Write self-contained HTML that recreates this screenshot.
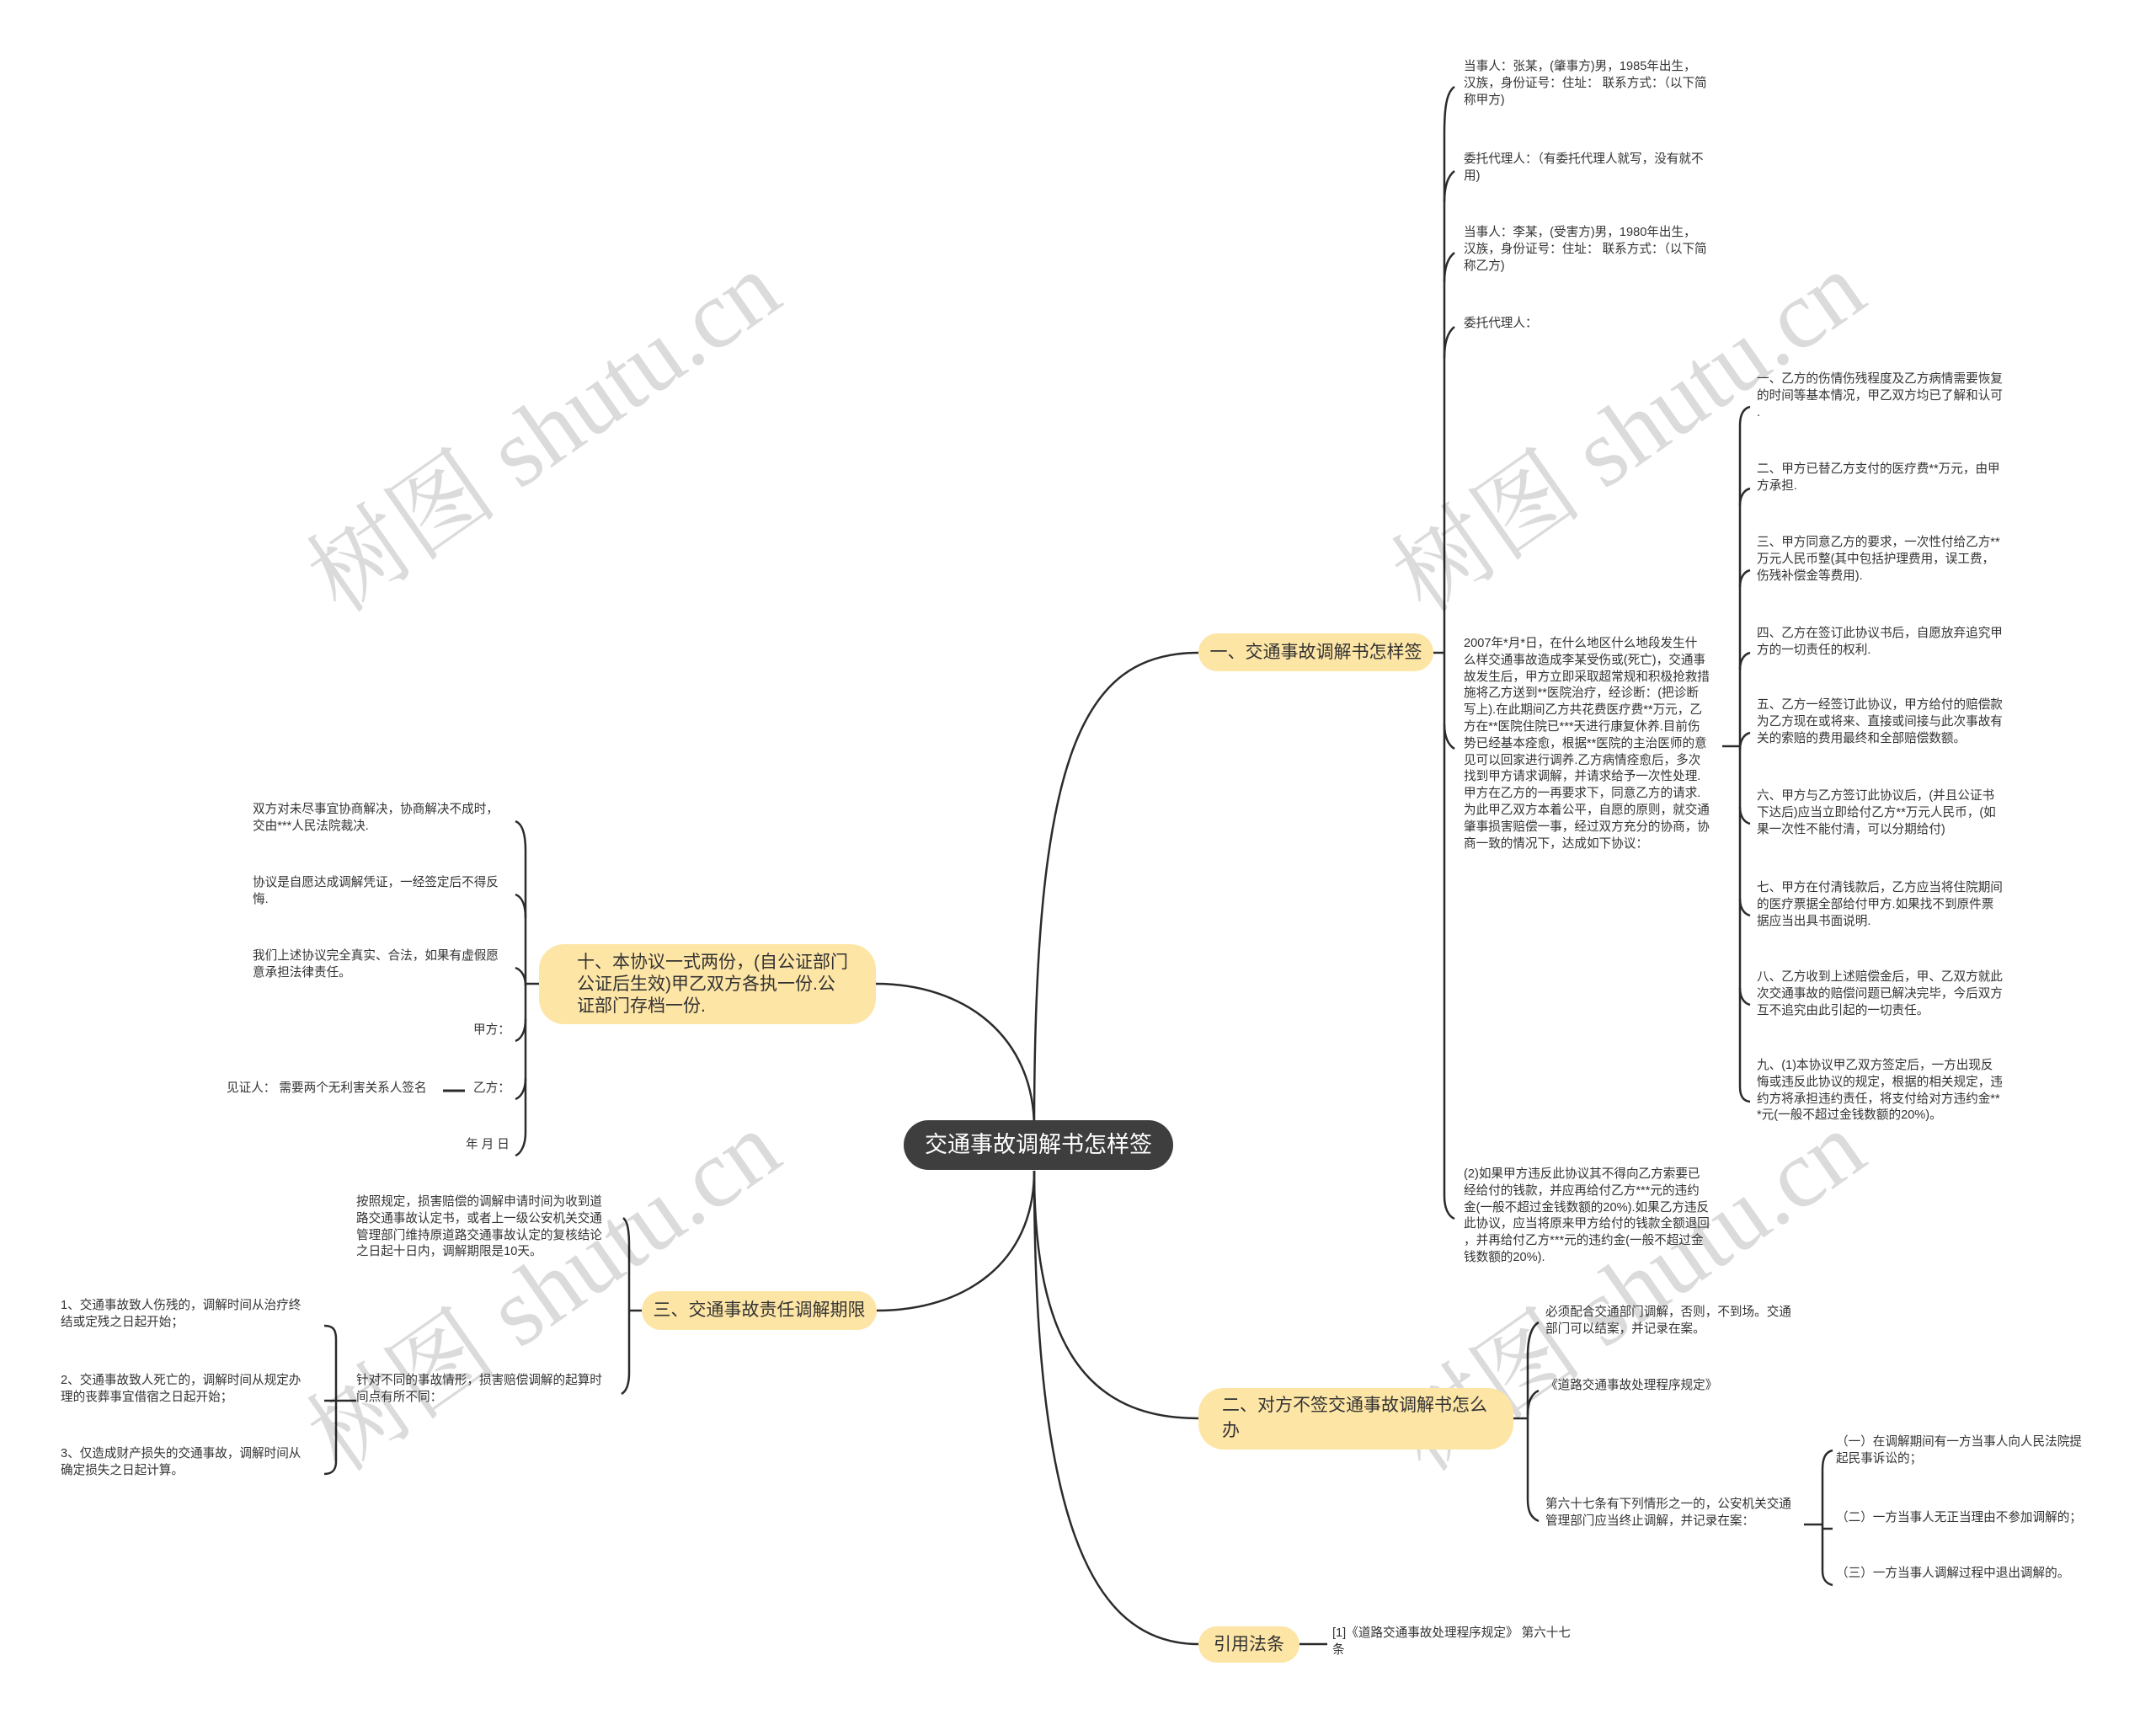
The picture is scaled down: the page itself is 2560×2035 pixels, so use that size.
<!DOCTYPE html>
<html><head><meta charset="utf-8">
<style>
html,body{margin:0;padding:0;background:#fff;}
body{width:2560px;height:2035px;position:relative;overflow:hidden;font-family:"Liberation Sans","Noto Sans CJK SC",sans-serif;color:#333;}
.t{position:absolute;font-size:14.6px;line-height:19.8px;white-space:nowrap;color:#333;}
.b{position:absolute;background:#fde5a6;border-radius:30px;font-size:21px;line-height:30px;color:#333;box-sizing:border-box;white-space:nowrap;}
.wm{position:absolute;font-family:"Liberation Serif","Noto Serif CJK SC",serif;font-size:115px;color:rgba(0,0,0,0.14);white-space:nowrap;transform:translate(-50%,-50%) rotate(-35deg);}
svg{position:absolute;left:0;top:0;}
</style></head><body>
<svg width="2560" height="2035" fill="none" stroke="#2b2b2b" stroke-width="2.5">
<path d="M1228 1340 C1228 900 1283 775 1423 775"/>
<path d="M1228 1390 C1228 1600 1293 1684 1423 1684"/>
<path d="M1228 1390 C1228 1800 1293 1952 1423 1952"/>
<path d="M1228 1340 C1228 1230 1145 1168 1040 1168"/>
<path d="M1228 1390 C1228 1500 1145 1556 1041 1556"/>
<path d="M1702 775 H1715"/>
<path d="M1727 103 C1717 110 1715 130 1715 160 V1420 C1715 1435 1720 1444 1727 1447"/>
<path d="M1727 203 C1718 210 1715 225 1715 240"/>
<path d="M1727 300 C1718 307 1715 320 1715 335"/>
<path d="M1727 388 C1718 395 1715 410 1715 425"/>
<path d="M1715 860 C1715 875 1720 885 1727 889"/>
<path d="M2045 886 H2066"/>
<path d="M2078 483 C2070 485 2066 492 2066 505 V1290 C2066 1302 2070 1307 2078 1308"/>
<path d="M2078 580 C2070 582 2066 590 2066 600"/>
<path d="M2078 677 C2070 679 2066 687 2066 697"/>
<path d="M2078 775 C2070 777 2066 785 2066 795"/>
<path d="M2078 870 C2070 872 2066 880 2066 890"/>
<path d="M2078 978 C2070 976 2066 968 2066 958"/>
<path d="M2078 1087 C2070 1085 2066 1077 2066 1067"/>
<path d="M2078 1193 C2070 1191 2066 1183 2066 1173"/>
<path d="M640 1168 H624"/>
<path d="M612 975 C620 978 624 990 624 1010 V1345 C624 1360 618 1370 612 1372"/>
<path d="M612 1062 C620 1065 624 1075 624 1090"/>
<path d="M612 1149 C620 1152 624 1160 624 1170"/>
<path d="M612 1236 C620 1233 624 1223 624 1210"/>
<path d="M612 1305 C620 1302 624 1292 624 1280"/>
<path d="M526 1295 H552" stroke-width="3"/>
<path d="M762 1556 H747"/>
<path d="M740 1446 C745 1450 747 1460 747 1480 V1630 C747 1645 743 1652 738 1655"/>
<path d="M423 1663 H399"/>
<path d="M385 1574 C395 1574 399 1578 399 1590 V1735 C399 1745 395 1750 385 1750"/>
<path d="M399 1663 H385"/>
<path d="M1797 1684 H1814"/>
<path d="M1827 1570 C1818 1575 1814 1590 1814 1610 V1780 C1814 1795 1818 1802 1827 1806"/>
<path d="M1827 1651 C1818 1655 1814 1665 1814 1680"/>
<path d="M2142 1810 H2164"/>
<path d="M2176 1722 C2168 1724 2164 1730 2164 1745 V1865 C2164 1875 2168 1880 2176 1882"/>
<path d="M2164 1815 H2176"/>
<path d="M1543 1952 H1576"/>
</svg>

<div class="wm" style="left:640px;top:505px;">树图 shutu.cn</div>
<div class="wm" style="left:1928px;top:505px;">树图 shutu.cn</div>
<div class="wm" style="left:640px;top:1525px;">树图 shutu.cn</div>
<div class="wm" style="left:1928px;top:1525px;">树图 shutu.cn</div>

<div style="position:absolute;left:1073px;top:1330px;width:320px;height:59px;background:#3e3e3e;border-radius:30px;color:#fff;font-size:27px;line-height:59px;text-align:center;">交通事故调解书怎样签</div>

<div class="b" style="left:1423px;top:752px;width:279px;height:45px;line-height:45px;text-align:center;">一、交通事故调解书怎样签</div>
<div class="b" style="left:640px;top:1121px;width:400px;height:95px;padding:9px 0 0 45px;line-height:26px;">十、本协议一式两份，(自公证部门<br>公证后生效)甲乙双方各执一份.公<br>证部门存档一份.</div>
<div class="b" style="left:762px;top:1533px;width:279px;height:46px;line-height:46px;text-align:center;">三、交通事故责任调解期限</div>
<div class="b" style="left:1423px;top:1648px;width:374px;height:73px;padding:6px 0 0 28px;">二、对方不签交通事故调解书怎么<br>办</div>
<div class="b" style="left:1423px;top:1931px;width:120px;height:43px;line-height:43px;text-align:center;">引用法条</div>

<div class="t" style="left:1738px;top:70px;">当事人：张某，(肇事方)男，1985年出生，<br>汉族，身份证号：住址： 联系方式：（以下简<br>称甲方)</div>
<div class="t" style="left:1738px;top:180px;">委托代理人：（有委托代理人就写，没有就不<br>用)</div>
<div class="t" style="left:1738px;top:267px;">当事人：李某，(受害方)男，1980年出生，<br>汉族，身份证号：住址： 联系方式：（以下简<br>称乙方)</div>
<div class="t" style="left:1738px;top:375px;">委托代理人：</div>
<div class="t" style="left:1738px;top:755px;">2007年*月*日，在什么地区什么地段发生什<br>么样交通事故造成李某受伤或(死亡)，交通事<br>故发生后，甲方立即采取超常规和积极抢救措<br>施将乙方送到**医院治疗，经诊断：(把诊断<br>写上).在此期间乙方共花费医疗费**万元，乙<br>方在**医院住院已***天进行康复休养.目前伤<br>势已经基本痊愈，根据**医院的主治医师的意<br>见可以回家进行调养.乙方病情痊愈后，多次<br>找到甲方请求调解，并请求给予一次性处理.<br>甲方在乙方的一再要求下，同意乙方的请求.<br>为此甲乙双方本着公平，自愿的原则，就交通<br>肇事损害赔偿一事，经过双方充分的协商，协<br>商一致的情况下，达成如下协议：</div>
<div class="t" style="left:1738px;top:1385px;">(2)如果甲方违反此协议其不得向乙方索要已<br>经给付的钱款，并应再给付乙方***元的违约<br>金(一般不超过金钱数额的20%).如果乙方违反<br>此协议，应当将原来甲方给付的钱款全额退回<br>，并再给付乙方***元的违约金(一般不超过金<br>钱数额的20%).</div>

<div class="t" style="left:2086px;top:441px;">一、乙方的伤情伤残程度及乙方病情需要恢复<br>的时间等基本情况，甲乙双方均已了解和认可<br>.</div>
<div class="t" style="left:2086px;top:548px;">二、甲方已替乙方支付的医疗费**万元，由甲<br>方承担.</div>
<div class="t" style="left:2086px;top:635px;">三、甲方同意乙方的要求，一次性付给乙方**<br>万元人民币整(其中包括护理费用，误工费，<br>伤残补偿金等费用).</div>
<div class="t" style="left:2086px;top:743px;">四、乙方在签订此协议书后，自愿放弃追究甲<br>方的一切责任的权利.</div>
<div class="t" style="left:2086px;top:828px;">五、乙方一经签订此协议，甲方给付的赔偿款<br>为乙方现在或将来、直接或间接与此次事故有<br>关的索赔的费用最终和全部赔偿数额。</div>
<div class="t" style="left:2086px;top:936px;">六、甲方与乙方签订此协议后，(并且公证书<br>下达后)应当立即给付乙方**万元人民币，(如<br>果一次性不能付清，可以分期给付)</div>
<div class="t" style="left:2086px;top:1045px;">七、甲方在付清钱款后，乙方应当将住院期间<br>的医疗票据全部给付甲方.如果找不到原件票<br>据应当出具书面说明.</div>
<div class="t" style="left:2086px;top:1151px;">八、乙方收到上述赔偿金后，甲、乙双方就此<br>次交通事故的赔偿问题已解决完毕，今后双方<br>互不追究由此引起的一切责任。</div>
<div class="t" style="left:2086px;top:1256px;">九、(1)本协议甲乙双方签定后，一方出现反<br>悔或违反此协议的规定，根据的相关规定，违<br>约方将承担违约责任，将支付给对方违约金**<br>*元(一般不超过金钱数额的20%)。</div>

<div class="t" style="left:300px;top:952px;">双方对未尽事宜协商解决，协商解决不成时，<br>交由***人民法院裁决.</div>
<div class="t" style="left:300px;top:1039px;">协议是自愿达成调解凭证，一经签定后不得反<br>悔.</div>
<div class="t" style="left:300px;top:1126px;">我们上述协议完全真实、合法，如果有虚假愿<br>意承担法律责任。</div>
<div class="t" style="left:562px;top:1214px;">甲方：</div>
<div class="t" style="left:562px;top:1283px;">乙方：</div>
<div class="t" style="left:269px;top:1283px;">见证人： 需要两个无利害关系人签名</div>
<div class="t" style="left:553px;top:1350px;">年 月 日</div>

<div class="t" style="left:423px;top:1418px;">按照规定，损害赔偿的调解申请时间为收到道<br>路交通事故认定书，或者上一级公安机关交通<br>管理部门维持原道路交通事故认定的复核结论<br>之日起十日内，调解期限是10天。</div>
<div class="t" style="left:423px;top:1630px;">针对不同的事故情形，损害赔偿调解的起算时<br>间点有所不同：</div>
<div class="t" style="left:72px;top:1541px;">1、交通事故致人伤残的，调解时间从治疗终<br>结或定残之日起开始；</div>
<div class="t" style="left:72px;top:1630px;">2、交通事故致人死亡的，调解时间从规定办<br>理的丧葬事宜借宿之日起开始；</div>
<div class="t" style="left:72px;top:1717px;">3、仅造成财产损失的交通事故，调解时间从<br>确定损失之日起计算。</div>

<div class="t" style="left:1835px;top:1549px;">必须配合交通部门调解，否则，不到场。交通<br>部门可以结案，并记录在案。</div>
<div class="t" style="left:1835px;top:1636px;">《道路交通事故处理程序规定》</div>
<div class="t" style="left:1835px;top:1777px;">第六十七条有下列情形之一的，公安机关交通<br>管理部门应当终止调解，并记录在案：</div>
<div class="t" style="left:2180px;top:1703px;">（一）在调解期间有一方当事人向人民法院提<br>起民事诉讼的；</div>
<div class="t" style="left:2180px;top:1793px;">（二）一方当事人无正当理由不参加调解的；</div>
<div class="t" style="left:2180px;top:1859px;">（三）一方当事人调解过程中退出调解的。</div>

<div class="t" style="left:1582px;top:1930px;">[1]《道路交通事故处理程序规定》 第六十七<br>条</div>
</body></html>
